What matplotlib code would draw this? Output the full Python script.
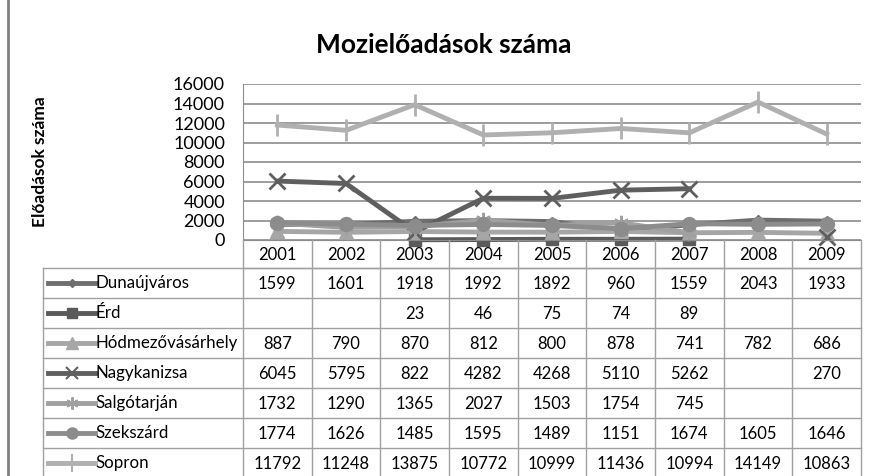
import numpy as np
import matplotlib
matplotlib.use('Agg')
import matplotlib.pyplot as plt
from matplotlib.lines import Line2D

plt.rcParams['font.family'] = ['Lato', 'DejaVu Sans']

# Datos del gráfico
years = ['2001', '2002', '2003', '2004', '2005', '2006', '2007', '2008', '2009']
cities = ['Dunaújváros', 'Érd', 'Hódmezővásárhely', 'Nagykanizsa',
          'Salgótarján', 'Szekszárd', 'Sopron']
nan = np.nan
dunaujvaros = [1599, 1601, 1918, 1992, 1892, 960, 1559, 2043, 1933]
erd = [nan, nan, 23, 46, 75, 74, 89, nan, nan]
hodmezovasarhely = [887, 790, 870, 812, 800, 878, 741, 782, 686]
nagykanizsa = [6045, 5795, 822, 4282, 4268, 5110, 5262, nan, 270]
salgotarjan = [1732, 1290, 1365, 2027, 1503, 1754, 745, nan, nan]
szekszard = [1774, 1626, 1485, 1595, 1489, 1151, 1674, 1605, 1646]
sopron = [11792, 11248, 13875, 10772, 10999, 11436, 10994, 14149, 10863]
series = [dunaujvaros, erd, hodmezovasarhely, nagykanizsa, salgotarjan, szekszard, sopron]
yticks = [0, 2000, 4000, 6000, 8000, 10000, 12000, 14000, 16000]

# Estilos (color, marcador, tamaño)
styles = [('#6e6e6e', 'D', 5), ('#5a5a5a', 's', 9), ('#a6a6a6', '^', 10),
          ('#5f5f5f', 'x', 11), ('#a0a0a0', (6, 2, 0), 11), ('#8c8c8c', 'o', 10),
          ('#b0b0b0', '|', 16)]

W, H = 872, 476
fig = plt.figure(figsize=(W / 100, H / 100), dpi=100)

# Área del gráfico en píxeles
x0, x1, ytop, ybot = 243, 861, 84, 240
ax = fig.add_axes([x0 / W, 1 - ybot / H, (x1 - x0) / W, (ybot - ytop) / H])
ax.set_xlim(-0.5, len(years) - 0.5)
ax.set_ylim(0, 16000)
ax.set_yticks(yticks)
ax.set_yticklabels([str(v) for v in yticks], fontsize=13)
ax.tick_params(axis='y', length=0, pad=13)
ax.set_xticks([])
ax.grid(axis='y', color='#8c8c8c', linewidth=1.2)
ax.set_axisbelow(True)
for s in ['top', 'right']:
    ax.spines[s].set_visible(False)
ax.spines['left'].set_color('#8c8c8c')
ax.spines['bottom'].set_color('#8c8c8c')

x = np.arange(len(years))
for vals, (c, m, ms) in zip(series, styles):
    ax.plot(x, vals, color=c, linewidth=3.5, marker=m, markersize=ms,
            markeredgewidth=2 if m in ('x', '|') or isinstance(m, tuple) else 1,
            markeredgecolor=c, clip_on=False)

ax.set_ylabel('Előadások száma', fontsize=12.5, fontweight='bold', labelpad=0)
ax.yaxis.set_label_coords((48 - x0) / (x1 - x0), 0.5)

fig.text(444 / W, 1 - 45 / H, 'Mozielőadások száma', ha='center', va='center',
         fontsize=19, fontweight='bold')

# Tabla de datos
grid_c = '#a0a0a0'
ov = fig.add_axes([0, 0, 1, 1])
ov.set_xlim(0, W)
ov.set_ylim(H, 0)
ov.axis('off')
ov.patch.set_alpha(0)

ncol = len(years)
cw = (x1 - x0) / ncol
hdr_bot = 268
rh = 30
tab_left = 43
nrows = len(cities)
tab_bot = hdr_bot + nrows * rh

# líneas verticales
for i in range(ncol + 1):
    xx = x0 + i * cw
    ov.plot([xx, xx], [ybot, tab_bot], color=grid_c, lw=1)
ov.plot([tab_left, tab_left], [hdr_bot, tab_bot], color=grid_c, lw=1)
# líneas horizontales
ov.plot([x0, x1], [hdr_bot, hdr_bot], color=grid_c, lw=1)
for r in range(nrows + 1):
    yy = hdr_bot + r * rh
    ov.plot([tab_left, x1], [yy, yy], color=grid_c, lw=1)

for i, yr in enumerate(years):
    ov.text(x0 + (i + 0.5) * cw, (ybot + hdr_bot) / 2 + 1, yr, ha='center',
            va='center', fontsize=12)

for r, (name, vals, (c, m, ms)) in enumerate(zip(cities, series, styles)):
    yc = hdr_bot + (r + 0.5) * rh
    ov.add_line(Line2D([48, 95], [yc, yc], color=c, linewidth=3.5, marker=None))
    ov.plot([71.5], [yc], color=c, marker=m, markersize=ms * 0.8,
            markeredgecolor=c,
            markeredgewidth=1.5 if m in ('x', '|') or isinstance(m, tuple) else 1)
    ov.text(95, yc, name, ha='left', va='center', fontsize=12.2)
    for i, v in enumerate(vals):
        if not np.isnan(v):
            ov.text(x0 + (i + 0.5) * cw, yc + 1, str(int(v)), ha='center',
                    va='center', fontsize=12)

# borde izquierdo
ov.plot([8, 8], [0, H], color='#808080', lw=2)

fig.savefig('out.png', dpi=100)
